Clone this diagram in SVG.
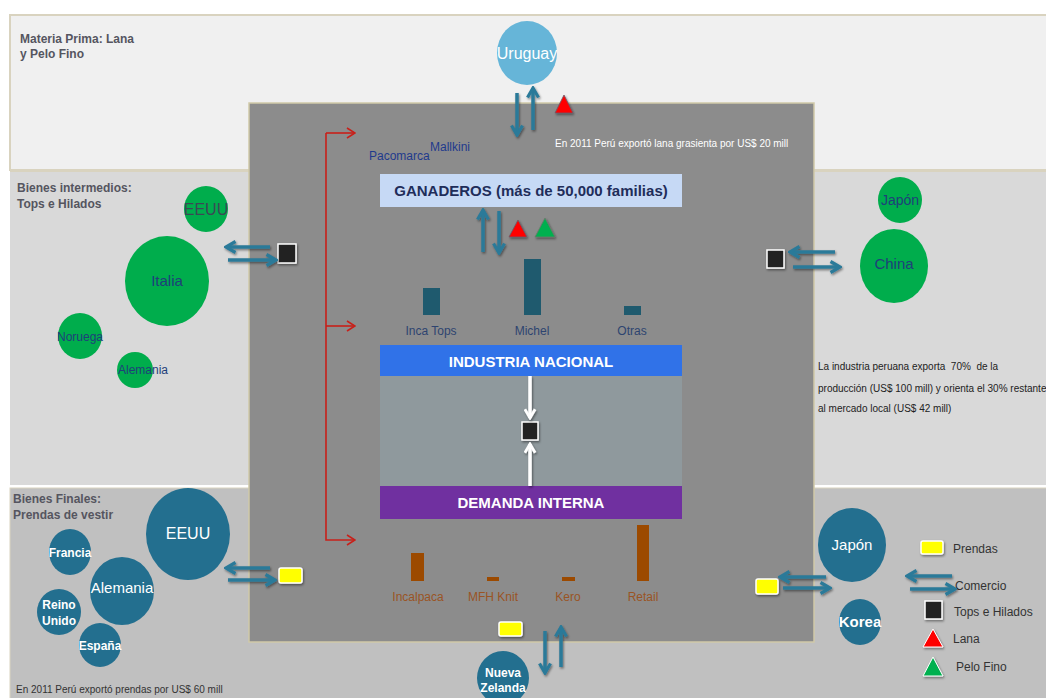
<svg xmlns="http://www.w3.org/2000/svg" width="1046" height="698" viewBox="0 0 1046 698">
<defs>
<marker id="ah" viewBox="0 0 14 14" markerWidth="14" markerHeight="14" refX="12" refY="7" orient="auto" markerUnits="userSpaceOnUse">
<path d="M2.5,1.5 L12,7 L2.5,12.5" fill="none" stroke="#2b7a99" stroke-width="3.2" stroke-linejoin="miter"/>
</marker>
<marker id="aw" viewBox="0 0 14 14" markerWidth="13" markerHeight="13" refX="12" refY="7" orient="auto" markerUnits="userSpaceOnUse">
<path d="M2.5,1.5 L12,7 L2.5,12.5" fill="none" stroke="#ffffff" stroke-width="3"/>
</marker>
<marker id="ar" viewBox="0 0 12 12" markerWidth="12" markerHeight="12" refX="11" refY="6" orient="auto" markerUnits="userSpaceOnUse">
<path d="M3,1 L11,6 L3,11" fill="none" stroke="#c8201a" stroke-width="1.6"/>
</marker>
<filter id="sh" x="-30%" y="-30%" width="160%" height="160%">
<feDropShadow dx="1" dy="1.5" stdDeviation="1.2" flood-color="#000" flood-opacity="0.45"/>
</filter>
</defs>
<style>
.lbl{font-family:"Liberation Sans",Arial,sans-serif;font-weight:bold;font-size:12px;fill:#55555f}
.note{font-family:"Liberation Sans",Arial,sans-serif;font-size:10px;white-space:pre}
.tr{stroke:#2b7a99;stroke-width:3.5;fill:none;marker-end:url(#ah)}
.wr{stroke:#ffffff;stroke-width:3.5;fill:none;marker-end:url(#aw)}
.rr{stroke:#c8201a;stroke-width:1.6;fill:none}
.green{fill:#00ad4c}
.teal{fill:#236f8f}
.gtx{font-family:"Liberation Sans",Arial,sans-serif;fill:#1f3f7a;text-anchor:middle}
.wtx{font-family:"Liberation Sans",Arial,sans-serif;fill:#ffffff;text-anchor:middle}
.sq{fill:#222222;stroke:#ffffff;stroke-width:1.5}
.yr{fill:#ffff00;stroke:#ffffff;stroke-width:1.5}
.bar1{fill:#1f5a6e}
.bar2{fill:#9c4a00}
.bl1{font-family:"Liberation Sans",Arial,sans-serif;font-size:12px;fill:#2e4470;text-anchor:middle}
.bl2{font-family:"Liberation Sans",Arial,sans-serif;font-size:12px;fill:#9a5424;text-anchor:middle}
.leg{font-family:"Liberation Sans",Arial,sans-serif;font-size:12px;fill:#333333}
</style>
<rect x="0" y="0" width="1046" height="698" fill="#ffffff"/>
<g id="bands">
<rect x="10" y="15" width="1040" height="155" fill="#f0f0f0" stroke="#d9d3bf" stroke-width="2"/>
<rect x="10" y="171" width="1040" height="314" fill="#d9d9d9"/>
<line x1="10" y1="171" x2="1046" y2="171" stroke="#d9d3bf" stroke-width="2"/>
<rect x="10" y="488" width="1040" height="212" fill="#c0c0c0" stroke="#d9d3bf" stroke-width="1"/>
</g>
<g id="band-labels">
<text class="lbl" x="20" y="43">Materia Prima: Lana</text>
<text class="lbl" x="20" y="58">y Pelo Fino</text>
<text class="lbl" x="17" y="192">Bienes intermedios:</text>
<text class="lbl" x="17" y="208">Tops e Hilados</text>
<text class="lbl" x="13" y="503">Bienes Finales:</text>
<text class="lbl" x="13" y="519">Prendas de vestir</text>
<text class="note" x="16" y="693" fill="#333333">En 2011 Perú exportó prendas por US$ 60 mill</text>
<text class="note" x="818" y="370" fill="#222222" xml:space="preserve">La industria peruana exporta  70%  de la</text>
<text class="note" x="818" y="392" fill="#222222">producción (US$ 100 mill) y orienta el 30% restante</text>
<text class="note" x="818" y="412" fill="#222222">al mercado local (US$ 42 mill)</text>
</g>
<g id="central-box">
<rect x="249" y="103" width="565" height="539" fill="#8c8c8c" stroke="#d0c9a8" stroke-width="1.5"/>
<text class="note" x="555" y="147" fill="#ffffff" font-size="10.3">En 2011 Perú exportó lana grasienta por US$ 20 mill</text>
<text x="369" y="160" font-family="Liberation Sans, Arial, sans-serif" font-size="12" fill="#1f3a8c">Pacomarca</text>
<text x="430" y="151" font-family="Liberation Sans, Arial, sans-serif" font-size="12" fill="#1f3a8c">Mallkini</text>
</g>
<g id="ganaderos">
<rect x="380" y="174" width="302" height="33" fill="#c6d9f5"/>
<text x="531" y="196" font-family="Liberation Sans, Arial, sans-serif" font-size="15" font-weight="bold" fill="#1f2d5a" text-anchor="middle">GANADEROS (más de 50,000 familias)</text>
</g>
<g id="bars-top">
<rect class="bar1" x="423" y="288" width="17" height="27"/>
<rect class="bar1" x="524" y="259" width="17" height="56"/>
<rect class="bar1" x="624" y="306" width="17" height="9"/>
<text class="bl1" x="431" y="335">Inca Tops</text>
<text class="bl1" x="532" y="335">Michel</text>
<text class="bl1" x="632" y="335">Otras</text>
</g>
<g id="industria">
<rect x="380" y="376" width="302" height="110" fill="#8f999d"/>
<rect x="380" y="345" width="302" height="31" fill="#3072e8"/>
<text x="531" y="367" font-family="Liberation Sans, Arial, sans-serif" font-size="15" font-weight="bold" fill="#ffffff" text-anchor="middle">INDUSTRIA NACIONAL</text>
</g>
<g id="demanda">
<rect x="380" y="486" width="302" height="33" fill="#7030a0"/>
<text x="531" y="508" font-family="Liberation Sans, Arial, sans-serif" font-size="15" font-weight="bold" fill="#ffffff" text-anchor="middle">DEMANDA INTERNA</text>
</g>
<g id="center-square">
<rect class="sq" x="522" y="422" width="16" height="18" filter="url(#sh)"/>
</g>
<g id="bars-bottom">
<rect class="bar2" x="411" y="553" width="13" height="28"/>
<rect class="bar2" x="487" y="577" width="12" height="4"/>
<rect class="bar2" x="562" y="577" width="13" height="4"/>
<rect class="bar2" x="637" y="525" width="12" height="56"/>
<text class="bl2" x="418" y="601">Incalpaca</text>
<text class="bl2" x="493" y="601">MFH Knit</text>
<text class="bl2" x="568" y="601">Kero</text>
<text class="bl2" x="643" y="601">Retail</text>
</g>
<g id="uruguay">
<ellipse cx="527" cy="53" rx="30" ry="32" fill="#66b5d8"/>
<text class="wtx" x="527" y="59" font-size="16">Uruguay</text>
</g>
<g id="inter-left">
<ellipse class="green" cx="206" cy="209" rx="22" ry="23"/>
<text x="206" y="215" font-family="Liberation Sans, Arial, sans-serif" font-size="16" fill="#3a4a55" text-anchor="middle">EEUU</text>
<ellipse class="green" cx="167" cy="281" rx="42" ry="45"/>
<text class="gtx" x="167" y="286" font-size="15">Italia</text>
<ellipse class="green" cx="80" cy="336" rx="22" ry="23"/>
<text class="gtx" x="80" y="341" font-size="12">Noruega</text>
<ellipse class="green" cx="135" cy="370" rx="18" ry="18"/>
<text class="gtx" x="143" y="374" font-size="12">Alemania</text>
</g>
<g id="inter-right">
<ellipse class="green" cx="900" cy="200" rx="22" ry="23"/>
<text class="gtx" x="900" y="205" font-size="14">Japón</text>
<ellipse class="green" cx="894" cy="266" rx="34" ry="37"/>
<text class="gtx" x="894" y="269" font-size="15">China</text>
</g>
<g id="final-left">
<ellipse class="teal" cx="188" cy="534" rx="42" ry="46"/>
<text class="wtx" x="188" y="539" font-size="16">EEUU</text>
<ellipse class="teal" cx="70" cy="552" rx="21" ry="23"/>
<text class="wtx" x="70" y="557" font-size="12" font-weight="bold">Francia</text>
<ellipse class="teal" cx="122" cy="591" rx="32" ry="34"/>
<text class="wtx" x="122" y="593" font-size="15">Alemania</text>
<ellipse class="teal" cx="59" cy="612" rx="22" ry="23"/>
<text class="wtx" x="59" y="609" font-size="12" font-weight="bold">Reino</text>
<text class="wtx" x="59" y="625" font-size="12" font-weight="bold">Unido</text>
<ellipse class="teal" cx="100" cy="645" rx="21" ry="22"/>
<text class="wtx" x="100" y="650" font-size="12" font-weight="bold">España</text>
</g>
<g id="final-right">
<ellipse class="teal" cx="852" cy="545" rx="34" ry="37"/>
<text class="wtx" x="852" y="550" font-size="15">Japón</text>
<ellipse class="teal" cx="860" cy="622" rx="21" ry="23"/>
<text class="wtx" x="860" y="627" font-size="15" font-weight="bold">Korea</text>
</g>
<g id="nueva-zelanda">
<ellipse class="teal" cx="503" cy="678" rx="26" ry="27"/>
<text class="wtx" x="503" y="677" font-size="12" font-weight="bold">Nueva</text>
<text class="wtx" x="503" y="692" font-size="12" font-weight="bold">Zelanda</text>
</g>
<g id="symbols">
<polygon points="564,95 573,113 555,113" fill="#ff0000" stroke="#6a5a6a" stroke-width="0.8" filter="url(#sh)"/>
<polygon points="518,220 527,237 509,237" fill="#ff0000" stroke="#6a5a6a" stroke-width="0.8" filter="url(#sh)"/>
<polygon points="545,218 555,237 535,237" fill="#00b050" stroke="#6a7a6a" stroke-width="0.8" filter="url(#sh)"/>
<rect class="sq" x="278" y="244" width="18" height="19" filter="url(#sh)"/>
<rect class="sq" x="767" y="250" width="17" height="18" filter="url(#sh)"/>
<rect class="yr" x="279" y="568" width="23" height="15" rx="2" filter="url(#sh)"/>
<rect class="yr" x="756" y="579" width="22" height="15" rx="2" filter="url(#sh)"/>
<rect class="yr" x="499" y="622" width="23" height="14" rx="2" filter="url(#sh)"/>
</g>
<g id="legend">
<rect class="yr" x="921" y="541" width="22" height="13" rx="2" filter="url(#sh)"/>
<text class="leg" x="953" y="553">Prendas</text>
<text class="leg" x="955" y="590">Comercio</text>
<rect class="sq" x="925" y="601" width="17" height="18" filter="url(#sh)"/>
<text class="leg" x="954" y="616">Tops e Hilados</text>
<polygon points="933,629 943,647 923,647" fill="#ff0000" stroke="#ffffff" stroke-width="1" filter="url(#sh)"/>
<text class="leg" x="953" y="643">Lana</text>
<polygon points="933,657 943,676 923,676" fill="#00b050" stroke="#ffffff" stroke-width="1" filter="url(#sh)"/>
<text class="leg" x="956" y="671">Pelo Fino</text>
</g>
<g id="connectors">
<path class="rr" d="M326,133 L326,540 L355,540" marker-end="url(#ar)"/>
<line class="rr" x1="326" y1="133" x2="355" y2="133" marker-end="url(#ar)"/>
<line class="rr" x1="326" y1="326" x2="355" y2="326" marker-end="url(#ar)"/>
<g filter="url(#sh)">
<line class="tr" x1="517" y1="93" x2="517" y2="135"/>
<line class="tr" x1="533" y1="130" x2="533" y2="88"/>
<line class="tr" x1="483" y1="252" x2="483" y2="210"/>
<line class="tr" x1="499" y1="211" x2="499" y2="253"/>
<line class="tr" x1="270" y1="247" x2="226" y2="247"/>
<line class="tr" x1="228" y1="260" x2="276" y2="260"/>
<line class="tr" x1="835" y1="252" x2="790" y2="252"/>
<line class="tr" x1="793" y1="267" x2="840" y2="267"/>
<line class="tr" x1="270" y1="568" x2="226" y2="568"/>
<line class="tr" x1="228" y1="580" x2="275" y2="580"/>
<line class="tr" x1="826" y1="577" x2="780" y2="577"/>
<line class="tr" x1="783" y1="588" x2="830" y2="588"/>
<line class="tr" x1="545" y1="631" x2="545" y2="673"/>
<line class="tr" x1="561" y1="667" x2="561" y2="627"/>
<line class="tr" x1="952" y1="576" x2="907" y2="576"/>
<line class="tr" x1="910" y1="589" x2="955" y2="589"/>
<line class="wr" x1="530" y1="376" x2="530" y2="418"/>
<line class="wr" x1="530" y1="486" x2="530" y2="444"/>
</g>
</g>
</svg>
